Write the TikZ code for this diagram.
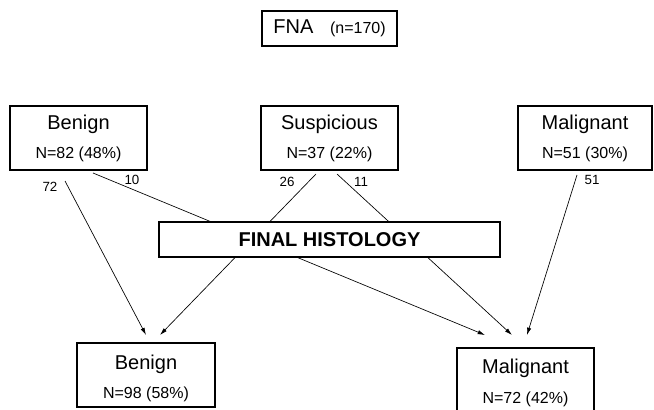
\documentclass[tikz,border=0pt]{standalone}
\usepackage{fontspec}
\setmainfont{Liberation Sans}
\usetikzlibrary{arrows.meta,positioning,calc}

\tikzset{
  box/.style={draw, line width=1.1pt, fill=white, inner sep=0pt, minimum height=48pt},
  histbox/.style={draw, line width=1.6pt, fill=white, inner sep=0pt, minimum width=255.75pt, minimum height=26.25pt, font=\fontsize{15}{18}\selectfont\bfseries},
  head/.style={anchor=base, font=\fontsize{15}{18}\selectfont},
  count/.style={anchor=base, font=\fontsize{12}{14}\selectfont},
  num/.style={font=\fontsize{10}{12}\selectfont},
  link/.style={line width=0.5pt, -{Latex[length=5.5pt,width=3.2pt]}},
}

\begin{document}
\begin{tikzpicture}[x=0.75pt,y=-0.75pt]
    \useasboundingbox (0,0) rectangle (654,410);

    % ends of the connectors
    \coordinate (b72) at (65,181);  \coordinate (e72) at (146,335);
    \coordinate (b10) at (93,173);  \coordinate (e10) at (485,335);
    \coordinate (b26) at (316,174); \coordinate (e26) at (160,335);
    \coordinate (b11) at (337,174); \coordinate (e11) at (512,335);
    \coordinate (b51) at (577,175); \coordinate (e51) at (527,335);

    \draw[link] (b72) -- (e72);
    \draw[link] (b10) -- (e10);
    \draw[link] (b26) -- (e26);
    \draw[link] (b11) -- (e11);
    \draw[link] (b51) -- (e51);

    \node[num] (n72) at (50,187) {72};
    \node[num] (n10) at (132,180) {10};
    \node[num] (n26) at (287,182) {26};
    \node[num] (n11) at (361,182) {11};
    \node[num] (n51) at (592,180) {51};

    % FNA
    \node[box, minimum width=101.25pt, minimum height=26.25pt, font=\fontsize{15}{18}\selectfont] (fna) at (329.5,28.5)
        {FNA\hspace{12.5pt}{\fontsize{12}{14}\selectfont(n=170)}};

    % cytology
    \node[box, minimum width=102.75pt] (ben) at (78.5,138) {};
    \node[head] (benT) at (78.5,130) {Benign};
    \node[count] (benN) at (78.5,159) {N=82 (48\%)};

    \node[box, minimum width=102.75pt] (sus) at (329.5,138) {};
    \node[head] (susT) at (329.5,130) {Suspicious};
    \node[count] (susN) at (329.5,159) {N=37 (22\%)};

    \node[box, minimum width=100.5pt] (mal) at (585,138) {};
    \node[head] (malT) at (585,130) {Malignant};
    \node[count] (malN) at (585,159) {N=51 (30\%)};

    % histology
    \node[histbox] (hist) at (329.5,239.5) {FINAL HISTOLOGY};

    \node[box, minimum width=103.5pt] (hben) at (146,375) {};
    \node[head] (hbenT) at (146,369) {Benign};
    \node[count] (hbenN) at (146,398) {N=98 (58\%)};

    \node[box, minimum width=102.75pt] (hmal) at (525.5,380) {};
    \node[head] (hmalT) at (525.5,373) {Malignant};
    \node[count] (hmalN) at (525.5,403) {N=72 (42\%)};
\end{tikzpicture}
\end{document}
